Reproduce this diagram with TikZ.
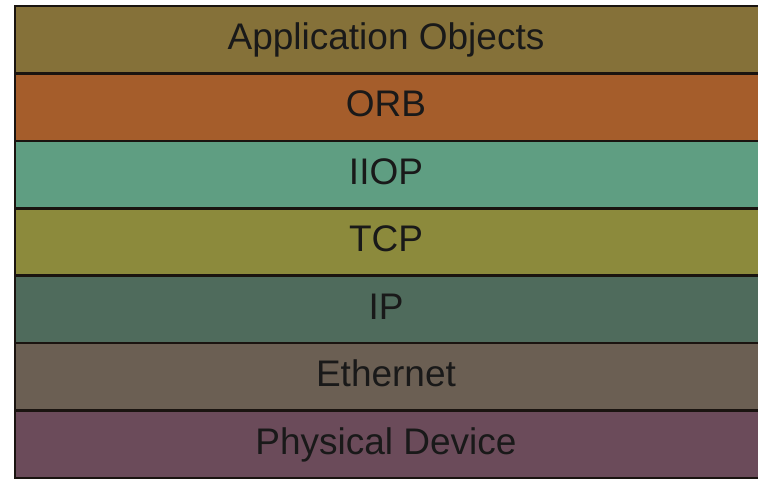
\documentclass[tikz,border=0pt]{standalone}
\usepackage{fontspec}
\setmainfont{Liberation Sans}
\definecolor{cApp}{HTML}{857139}
\definecolor{cOrb}{HTML}{A55D2B}
\definecolor{cIiop}{HTML}{5F9E82}
\definecolor{cTcp}{HTML}{8C8A3C}
\definecolor{cIp}{HTML}{4F6B5C}
\definecolor{cEth}{HTML}{6B5F53}
\definecolor{cPhy}{HTML}{6B4B5A}
\definecolor{cLine}{HTML}{1A1410}
\tikzset{
  layer/.style={fill=#1, draw=cLine, line width=2.6pt},
  lbl/.style={anchor=base, inner sep=0pt, font=\fontsize{37}{40}\selectfont, text=black!90}
}
\begin{document}
\begin{tikzpicture}[x=1pt,y=-1pt]
\fill[white] (0,0) rectangle (758,479);
\useasboundingbox (0,0) rectangle (758,479);
\begin{scope}
\clip (0,0) rectangle (758,479);
\def\H{67.43}
\foreach \i/\c/\t/\n in {0/cApp/Application Objects/app,1/cOrb/ORB/orb,2/cIiop/IIOP/iiop,3/cTcp/TCP/tcp,4/cIp/IP/ip,5/cEth/Ethernet/eth,6/cPhy/Physical Device/phy}{
  \draw[layer=\c] (15,6+\i*\H) rectangle (770,6+\i*\H+\H);
  \node[lbl] (\n) at (386,6+\i*\H+43.5) {\t};
}
\end{scope}
\end{tikzpicture}
\end{document}
